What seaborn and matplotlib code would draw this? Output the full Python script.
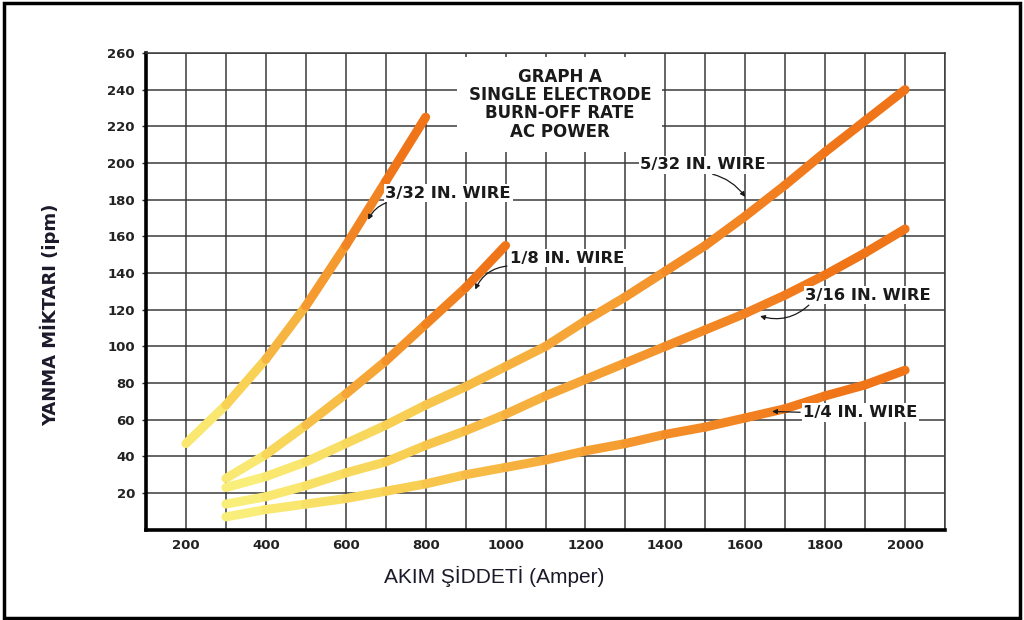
import numpy as np
import pandas as pd
import matplotlib
matplotlib.use("Agg")
import matplotlib.pyplot as plt
import seaborn as sns
from matplotlib.colors import LinearSegmentedColormap, to_hex
from matplotlib.patches import Rectangle

# ---------------- data ----------------
amps_332 = [200, 300, 400, 500, 600, 700, 800]
rate_332 = [47, 68, 93, 122, 155, 190, 225]

amps_18 = [300, 400, 500, 600, 700, 800, 900, 1000]
rate_18 = [28, 41, 57, 74, 92, 112, 132, 155]

amps_long = [300, 400, 500, 600, 700, 800, 900, 1000, 1100, 1200,
             1300, 1400, 1500, 1600, 1700, 1800, 1900, 2000]
rate_532 = [23, 29, 37, 47, 57, 68, 78, 89, 100, 114, 127, 141, 155, 171, 188, 206, 223, 240]
rate_316 = [14, 18, 24, 31, 37, 46, 54, 63, 73, 82, 91, 100, 109, 118, 128, 139, 151, 164]
rate_14 = [7, 11, 14, 17, 21, 25, 30, 34, 38, 43, 47, 52, 56, 61, 66, 73, 79, 87]

wire_labels = ["3/32 IN. WIRE", "1/8 IN. WIRE", "5/32 IN. WIRE", "3/16 IN. WIRE", "1/4 IN. WIRE"]
x_ticks = [200, 400, 600, 800, 1000, 1200, 1400, 1600, 1800, 2000]
y_ticks = [20, 40, 60, 80, 100, 120, 140, 160, 180, 200, 220, 240, 260]
title_text = "GRAPH A\nSINGLE ELECTRODE\nBURN-OFF RATE\nAC POWER"
x_label = "AKIM ŞİDDETİ (Amper)"
y_label = "YANMA MİKTARI (ipm)"

series = [
    (amps_332, rate_332),
    (amps_18, rate_18),
    (amps_long, rate_532),
    (amps_long, rate_316),
    (amps_long, rate_14),
]

# ---------------- style ----------------
sns.set_style("white")
plt.rcParams["font.family"] = ["DejaVu Sans"]

cmap = LinearSegmentedColormap.from_list(
    "burn", ["#f9f27e", "#f8d457", "#f6ac3a", "#f38a26", "#f07418"])

fig = plt.figure(figsize=(10.24, 6.2), dpi=100)
ax = fig.add_axes([0.1426, 0.1456, 0.7803, 0.769])

# gradient lines: each segment coloured by its position along the curve
for xs, ys in series:
    n = len(xs) - 1
    rows = []
    for i in range(n):
        rows.append((i, xs[i], ys[i]))
        rows.append((i, xs[i + 1], ys[i + 1]))
    seg = pd.DataFrame(rows, columns=["seg", "amp", "rate"])
    pal = [to_hex(cmap(min(1.0, (i + 0.5) / n * 1.08))) for i in range(n)]
    sns.lineplot(data=seg, x="amp", y="rate", hue="seg", palette=pal,
                 legend=False, estimator=None, sort=False, lw=6.5,
                 solid_capstyle="round", ax=ax, zorder=3)

ax.set_xlim(100, 2100)
ax.set_ylim(0, 260)
ax.set_xticks(x_ticks)
ax.set_xticks(list(range(100, 2101, 100)), minor=True)
ax.set_yticks(y_ticks)
ax.set_axisbelow(True)
ax.grid(which="both", axis="x", color="#3a3a3a", lw=1.1)
ax.grid(which="major", axis="y", color="#3a3a3a", lw=1.1)

ax.tick_params(axis="x", which="both", length=0, pad=7, labelsize=9.5,
               labelcolor="#222222")
ax.tick_params(axis="y", which="major", length=3, width=1, pad=5,
               labelsize=9.5, labelcolor="#222222", left=True)
for lab in ax.get_xticklabels() + ax.get_yticklabels():
    lab.set_fontweight("bold")

for s in ["left", "bottom"]:
    ax.spines[s].set_linewidth(2.6)
    ax.spines[s].set_color("black")
for s in ["top", "right"]:
    ax.spines[s].set_linewidth(1.1)
    ax.spines[s].set_color("#3a3a3a")

ax.set_xlabel(x_label, fontsize=15, color="#1a1a2a",
              family=["Liberation Sans", "DejaVu Sans"])
ax.xaxis.set_label_coords(0.4355, -0.075)
ax.set_ylabel(y_label, fontsize=13, fontweight="bold", color="#1a1a2a")
ax.yaxis.set_label_coords(-0.108, 0.45)

# title block with white background
ax.text(1136, 232, title_text, ha="center", va="center", fontsize=12,
        fontweight="bold", color="#1a1a1a", linespacing=1.02, zorder=5,
        bbox=dict(facecolor="white", edgecolor="none", pad=8))

# wire annotations: (text x, text y, arrow head x, arrow head y, rad, relpos)
annots = [
    (699, 183.5, 656, 169, 0.3, (0.1, 0.0)),
    (1011, 148, 924, 131, 0.3, (0.0, 0.0)),
    (1337, 199, 1600, 181.5, -0.25, (0.45, 0.0)),
    (1750, 128, 1637, 116.5, -0.3, (0.05, 0.0)),
    (1745, 64, 1667, 64.5, 0.0, (0.0, 0.5)),
]
for (tx, ty, hx, hy, rad, rp), lab in zip(annots, wire_labels):
    ax.annotate(lab, xy=(hx, hy), xytext=(tx, ty), ha="left", va="center",
                fontsize=11.8, fontweight="bold", color="#1a1a1a", zorder=6,
                bbox=dict(facecolor="white", edgecolor="none", pad=1.2),
                arrowprops=dict(arrowstyle="-|>", color="#1a1a1a", lw=0.9,
                                mutation_scale=7, shrinkA=1, shrinkB=0,
                                relpos=rp,
                                connectionstyle=f"arc3,rad={rad}"))

# figure frame
fig.patches.append(Rectangle((0.004, 0.004), 0.992, 0.991, transform=fig.transFigure,
                             fill=False, edgecolor="black", lw=2.5, zorder=10))

fig.savefig("out.png", dpi=100)
